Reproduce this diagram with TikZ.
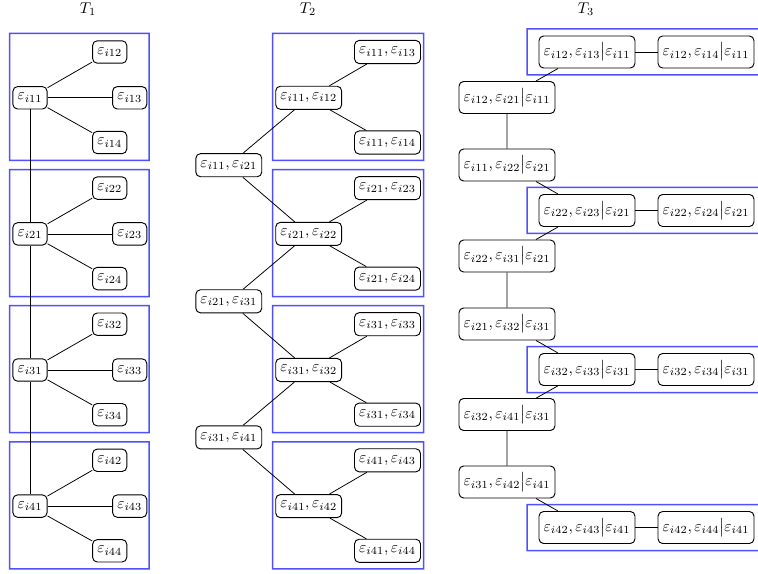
\documentclass[tikz,border=0pt]{standalone}
\begin{document}
\definecolor{grpblue}{RGB}{80,80,255}
\tikzset{
  cell/.style={draw, rounded corners=3pt, inner xsep=3pt, inner ysep=4.3pt, fill=white, line width=0.6pt},
  grp/.style={fill=grpblue, even odd rule},
  link/.style={draw, line width=0.5pt},
}
% frame of a group: outer and inner rectangles filled with the even-odd rule
\newcommand\grpframe[4]{%
  \fill[grp] (#1-0.75,#2-0.75) rectangle (#3+0.75,#4+0.75)
             (#1+0.75,#2+0.75) rectangle (#3-0.75,#4-0.75);}
\begin{tikzpicture}[x=0.6426pt,y=-0.6426pt]
\useasboundingbox (0,0) rectangle (758,574);

% column titles
\node[anchor=base] (h1) at (88,13.5) {$T_1$};
\node[anchor=base] (h2) at (308,13.5) {$T_2$};
\node[anchor=base] (h3) at (586,13.5) {$T_3$};

% ---------- T1 and T2: four blocks each ----------
\foreach \k in {1,...,4}{
  \pgfmathsetmacro\top{33.5+136.1*(\k-1)}
  \pgfmathsetmacro\bot{\top+127}
  % groups
  \grpframe{9.5}{\top}{149}{\bot}
  \grpframe{272.5}{\top}{423.5}{\bot}
  % T1 star
  \node[cell] (a\k) at (30,\top+64.3) {$\varepsilon_{i\k1}$};
  \node[cell] (a\k-2) at (109.7,\top+18.5) {$\varepsilon_{i\k2}$};
  \node[cell] (a\k-3) at (129.7,\top+64.3) {$\varepsilon_{i\k3}$};
  \node[cell] (a\k-4) at (109.7,\top+109) {$\varepsilon_{i\k4}$};
  \draw[link] (a\k) -- (a\k-2);
  \draw[link] (a\k) -- (a\k-3);
  \draw[link] (a\k) -- (a\k-4);
  % T2 pairs
  \node[cell] (b\k) at (308.7,\top+64.3) {$\varepsilon_{i\k1},\varepsilon_{i\k2}$};
  \node[cell] (b\k-3) at (387.5,\top+18.5) {$\varepsilon_{i\k1},\varepsilon_{i\k3}$};
  \node[cell] (b\k-4) at (387.5,\top+109) {$\varepsilon_{i\k1},\varepsilon_{i\k4}$};
  \draw[link] (b\k) -- (b\k-3);
  \draw[link] (b\k) -- (b\k-4);
}

% T1 spine
\draw[link] (a1) -- (a2);
\draw[link] (a2) -- (a3);
\draw[link] (a3) -- (a4);

% T2 links between blocks
\node[cell] (l1) at (228.8,165.2) {$\varepsilon_{i11},\varepsilon_{i21}$};
\node[cell] (l2) at (228.8,301.3) {$\varepsilon_{i21},\varepsilon_{i31}$};
\node[cell] (l3) at (228.8,437.4) {$\varepsilon_{i31},\varepsilon_{i41}$};
\draw[link] (b1) -- (l1) -- (b2) -- (l2) -- (b3) -- (l3) -- (b4);

% ---------- T3 ----------
% groups run off the right edge
\foreach \y in {52,210.5,369.5,527.5}{
  \grpframe{527}{\y-23}{780}{\y+23}
}
\node[cell] (c1) at (587,52) {$\varepsilon_{i12},\varepsilon_{i13}\big|\varepsilon_{i11}$};
\node[cell] (d1) at (706,52) {$\varepsilon_{i12},\varepsilon_{i14}\big|\varepsilon_{i11}$};
\node[cell] (e1) at (507,97.5) {$\varepsilon_{i12},\varepsilon_{i21}\big|\varepsilon_{i11}$};
\node[cell] (f1) at (507,165) {$\varepsilon_{i11},\varepsilon_{i22}\big|\varepsilon_{i21}$};
\node[cell] (c2) at (587,210.5) {$\varepsilon_{i22},\varepsilon_{i23}\big|\varepsilon_{i21}$};
\node[cell] (d2) at (706,210.5) {$\varepsilon_{i22},\varepsilon_{i24}\big|\varepsilon_{i21}$};
\node[cell] (e2) at (507,256) {$\varepsilon_{i22},\varepsilon_{i31}\big|\varepsilon_{i21}$};
\node[cell] (f2) at (507,324) {$\varepsilon_{i21},\varepsilon_{i32}\big|\varepsilon_{i31}$};
\node[cell] (c3) at (587,369.5) {$\varepsilon_{i32},\varepsilon_{i33}\big|\varepsilon_{i31}$};
\node[cell] (d3) at (706,369.5) {$\varepsilon_{i32},\varepsilon_{i34}\big|\varepsilon_{i31}$};
\node[cell] (e3) at (507,414.5) {$\varepsilon_{i32},\varepsilon_{i41}\big|\varepsilon_{i31}$};
\node[cell] (f3) at (507,482) {$\varepsilon_{i31},\varepsilon_{i42}\big|\varepsilon_{i41}$};
\node[cell] (c4) at (587,527.5) {$\varepsilon_{i42},\varepsilon_{i43}\big|\varepsilon_{i41}$};
\node[cell] (d4) at (706,527.5) {$\varepsilon_{i42},\varepsilon_{i44}\big|\varepsilon_{i41}$};

\draw[link] (c1) -- (d1);
\draw[link] (c2) -- (d2);
\draw[link] (c3) -- (d3);
\draw[link] (c4) -- (d4);
\draw[link] (c1) -- (e1) -- (f1) -- (c2) -- (e2) -- (f2) -- (c3) -- (e3) -- (f3) -- (c4);
\end{tikzpicture}
\end{document}
